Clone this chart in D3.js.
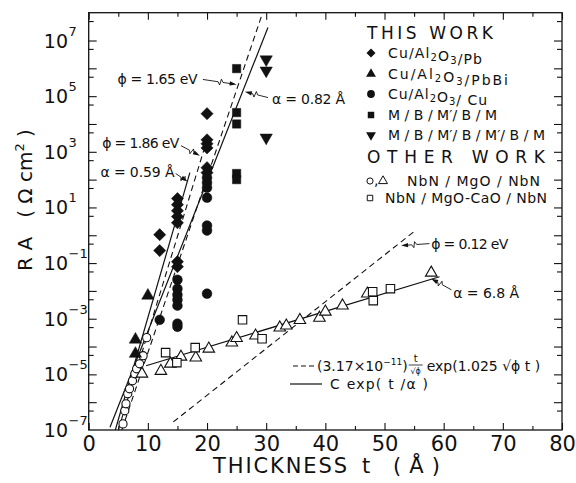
<!DOCTYPE html>
<html>
<head>
<meta charset="utf-8">
<script src="https://cdn.jsdelivr.net/npm/d3@7"></script>
<style>
  body { margin: 0; background: #fff; }
  text { font-family: "DejaVu Sans", sans-serif; fill: #111; }
</style>
</head>
<body>
<svg id="chart" width="576" height="483"></svg>
<script>
// thickness t in Angstrom, RA given as log10(RA / Ohm cm^2)

// THIS WORK
var pbT   = [12, 12, 15, 15, 15, 15, 15, 15, 15, 20, 20, 20, 20, 20, 20];
var pbLog = [0.02, -0.55, 1.32, 1.10, 0.88, 0.67, 0.45, -0.95, -1.13, 4.37, 3.43, 3.29, 3.14, 2.43, 2.25];

var pbbiT   = [10, 7.9, 7.9];
var pbbiLog = [-2.17, -3.75, -4.26];

var cuT   = [12, 15, 15, 15, 15, 15, 15, 15, 20, 20, 20, 20, 20, 20, 20];
var cuLog = [-3.04, -1.60, -1.92, -2.14, -2.32, -2.53, -3.18, -3.29, 2.07, 1.89, 1.71, 1.35, 0.35, 0.17, -2.10];

var mbmT   = [25, 25, 25, 25, 25];
var mbmLog = [5.99, 4.41, 4.00, 2.22, 2.00];

var mbmbmT   = [30, 30, 30];
var mbmbmLog = [6.32, 5.92, 3.51];

// OTHER WORK
var mgoCircT   = [5.8, 6.1, 6.3, 6.6, 6.9, 7.4, 7.8, 8.1, 8.6, 9.2, 9.8];
var mgoCircLog = [-6.78, -6.31, -6.06, -5.70, -5.52, -5.23, -4.98, -4.80, -4.62, -4.33, -3.68];

var mgoTriT   = [9.0, 12.2, 13.8, 15.6, 18.1, 20.3, 24.2, 25.0, 28.2, 32.3, 33.4, 35.7, 39.0, 40.0, 42.9, 47.1, 57.9];
var mgoTriLog = [-4.98, -4.88, -4.62, -4.37, -4.40, -4.08, -3.86, -3.70, -3.61, -3.32, -3.25, -3.05, -2.97, -2.75, -2.53, -2.10, -1.35];

var caoT   = [13.0, 14.9, 18.0, 26.0, 29.3, 48.0, 48.1, 51.0];
var caoLog = [-4.22, -4.58, -4.04, -3.04, -3.72, -2.03, -2.35, -1.92];

// fitted lines, [t, log10 RA] end points
var fitAlpha082 = [[3.6, -6.9], [30.3, 7.47]];
var fitAlpha059 = [[4.5, -7.0], [17.1, 2.25]];
var fitAlpha68  = [[9.7, -4.69], [59.3, -1.49]];
var fitPhi165   = [[5.6, -7.0], [29.4, 8.0]];
var fitPhi186   = [[5.0, -7.0], [19.8, 3.3]];
var fitPhi012   = [[14.3, -6.71], [55.4, 0.2]];

var xTicks = [0, 10, 20, 30, 40, 50, 60, 70, 80];
var xMinorTicks = [5, 15, 25, 35, 45, 55, 65, 75];
var yLabelPowers = [7, 5, 3, 1, -1, -3, -5, -7];
var yDecades = [-6, -5, -4, -3, -2, -1, 0, 1, 2, 3, 4, 5, 6, 7];
var yHalfDecades = [-7, -6, -5, -4, -3, -2, -1, 0, 1, 2, 3, 4, 5, 6, 7];

var legendThis = ["Cu/Al_2O_3/Pb", "Cu/Al_2O_3/PbBi", "Cu/Al_2O_3/ Cu", "M / B / M\u2032/ B / M", "M / B / M\u2032/ B / M\u2032/ B / M"];
var legendThisLen = [94, 120, 99, 109, 157];
var legendOther = ["NbN / MgO / NbN", "NbN / MgO-CaO / NbN"];
var legendOtherLen = [133, 162];

var svg = d3.select("#chart");

var x = d3.scaleLinear().domain([0, 80]).range([88.7, 562]);
var y = d3.scaleLog().domain([1e-7, 1e8]).range([430, 12.7]);
function ly(v) { return y(Math.pow(10, v)); }

// frame
svg.append("rect")
  .attr("x", x(0)).attr("y", y(1e8))
  .attr("width", x(80) - x(0)).attr("height", y(1e-7) - y(1e8))
  .attr("fill", "none").attr("stroke", "#111").attr("stroke-width", 1.3);

// tick marks, all pointing inward
function styleAxis(g) {
  g.select(".domain").remove();
  g.attr("color", "#111");
  g.selectAll(".tick line").attr("stroke-width", 1.1);
}
svg.append("g").attr("transform", "translate(0," + y(1e-7) + ")")
  .call(d3.axisBottom(x).tickValues(xTicks).tickSize(-7).tickPadding(6).tickFormat(d3.format("d")))
  .call(styleAxis)
  .selectAll("text").style("font-size", "21px").attr("font-family", null);
svg.append("g").attr("transform", "translate(0," + y(1e-7) + ")")
  .call(d3.axisBottom(x).tickValues(xMinorTicks).tickSize(-4).tickFormat(""))
  .call(styleAxis);
svg.append("g").attr("transform", "translate(0," + y(1e8) + ")")
  .call(d3.axisTop(x).tickValues(xTicks).tickSize(-7).tickFormat(""))
  .call(styleAxis);
svg.append("g").attr("transform", "translate(0," + y(1e8) + ")")
  .call(d3.axisTop(x).tickValues(xMinorTicks).tickSize(-4).tickFormat(""))
  .call(styleAxis);

var decadeVals = yDecades.map(function(p) { return Math.pow(10, p); });
var halfVals = yHalfDecades.map(function(p) { return 5 * Math.pow(10, p); });
[[d3.axisLeft, x(0)], [d3.axisRight, x(80)]].forEach(function(a) {
  svg.append("g").attr("transform", "translate(" + a[1] + ",0)")
    .call(a[0](y).tickValues(decadeVals).tickSize(-8).tickFormat(""))
    .call(styleAxis);
  svg.append("g").attr("transform", "translate(" + a[1] + ",0)")
    .call(a[0](y).tickValues(halfVals).tickSize(-5).tickFormat(""))
    .call(styleAxis);
});

// y tick labels 10^n
svg.append("g").selectAll("text")
  .data(yLabelPowers).enter().append("text")
  .attr("x", 68)
  .attr("y", function(d) { return ly(d) + 7; })
  .attr("text-anchor", "end")
  .style("font-size", "19px")
  .text("10");
svg.append("g").selectAll("text")
  .data(yLabelPowers).enter().append("text")
  .attr("x", 68.5)
  .attr("y", function(d) { return ly(d) - 5; })
  .style("font-size", "13px")
  .text(function(d) { return d < 0 ? "\u2212" + (-d) : d; });

// axis titles
svg.append("text").attr("x", 213).attr("y", 473).style("font-size", "21px")
  .attr("textLength", 134).attr("lengthAdjust", "spacing").text("THICKNESS");
svg.append("text").attr("x", 362).attr("y", 473).style("font-size", "21px").text("t");
svg.append("text").attr("x", 393).attr("y", 473).style("font-size", "21px")
  .attr("textLength", 47).attr("lengthAdjust", "spacing").text("(Å)");

var yt = svg.append("text")
  .attr("transform", "translate(32,200) rotate(-90)")
  .attr("text-anchor", "middle")
  .style("font-size", "20px")
  .style("white-space", "pre");
yt.append("tspan").text("R A   ( \u03a9 cm");
yt.append("tspan").attr("dy", -8).style("font-size", "13px").text("2");
yt.append("tspan").attr("dy", 8).text(" )");

// fitted lines
var logLine = d3.line()
  .x(function(d) { return x(d[0]); })
  .y(function(d) { return ly(d[1]); });

svg.append("clipPath").attr("id", "plotclip").append("rect")
  .attr("x", x(0)).attr("y", y(1e8)).attr("width", x(80) - x(0)).attr("height", y(1e-7) - y(1e8));

var fits = svg.append("g").attr("clip-path", "url(#plotclip)");
[fitAlpha082, fitAlpha059, fitAlpha68].forEach(function(f) {
  fits.append("path").attr("d", logLine(f))
    .attr("fill", "none").attr("stroke", "#111").attr("stroke-width", 1.2);
});
[fitPhi165, fitPhi186, fitPhi012].forEach(function(f) {
  fits.append("path").attr("d", logLine(f))
    .attr("fill", "none").attr("stroke", "#111").attr("stroke-width", 1.1)
    .attr("stroke-dasharray", "6,4");
});

// markers
function plotSeries(ts, logs, type, size, rot, filled) {
  var sym = d3.symbol().type(type).size(size);
  svg.append("g").selectAll("path")
    .data(ts.map(function(t, i) { return [t, logs[i]]; }))
    .enter().append("path")
    .attr("d", sym)
    .attr("transform", function(d) {
      return "translate(" + x(d[0]) + "," + ly(d[1]) + ") rotate(" + rot + ")";
    })
    .attr("fill", filled ? "#111" : "#fff")
    .attr("stroke", "#111")
    .attr("stroke-width", filled ? 0.5 : 1.1);
}
plotSeries(mgoCircT, mgoCircLog, d3.symbolCircle, 52, 0, false);
plotSeries(mgoTriT, mgoTriLog, d3.symbolTriangle, 58, 0, false);
plotSeries(caoT, caoLog, d3.symbolSquare, 72, 0, false);
plotSeries(pbT, pbLog, d3.symbolSquare, 74, 45, true);
plotSeries(pbbiT, pbbiLog, d3.symbolTriangle, 66, 0, true);
plotSeries(cuT, cuLog, d3.symbolCircle, 75, 0, true);
plotSeries(mbmT, mbmLog, d3.symbolSquare, 70, 0, true);
plotSeries(mbmbmT, mbmbmLog, d3.symbolTriangle, 66, 180, true);

// annotation arrows with a little zig-zag break
function zigArrow(a, b) {
  var x0 = x(a[0]), y0 = ly(a[1]), x1 = x(b[0]), y1 = ly(b[1]);
  var dx = x1 - x0, dy = y1 - y0, len = Math.sqrt(dx * dx + dy * dy);
  var ux = dx / len, uy = dy / len, nx = -uy, ny = ux;
  var m = len * 0.45;
  var p = d3.path();
  p.moveTo(x0, y0);
  p.lineTo(x0 + ux * m, y0 + uy * m);
  p.lineTo(x0 + ux * (m + 2) + nx * 3, y0 + uy * (m + 2) + ny * 3);
  p.lineTo(x0 + ux * (m + 3) - nx * 3, y0 + uy * (m + 3) - ny * 3);
  p.lineTo(x0 + ux * (m + 5), y0 + uy * (m + 5));
  p.lineTo(x1 - ux * 5, y1 - uy * 5);
  svg.append("path").attr("d", p.toString())
    .attr("fill", "none").attr("stroke", "#111").attr("stroke-width", 0.9);
  svg.append("path")
    .attr("d", "M" + x1 + "," + y1 +
      "L" + (x1 - ux * 7 + nx * 2.2) + "," + (y1 - uy * 7 + ny * 2.2) +
      "L" + (x1 - ux * 7 - nx * 2.2) + "," + (y1 - uy * 7 - ny * 2.2) + "Z")
    .attr("fill", "#111");
}
function note(pos, anchor, label, len) {
  svg.append("text")
    .attr("x", x(pos[0])).attr("y", ly(pos[1]) + 5)
    .attr("text-anchor", anchor)
    .style("font-size", "14px")
    .attr("textLength", len).attr("lengthAdjust", "spacing")
    .text(label);
}
note([18.4, 5.62], "end", "\u03d5 = 1.65 eV", 80);
zigArrow([19.3, 5.6], [25.0, 5.42]);
note([31.0, 4.91], "start", "\u03b1 = 0.82 \u00c5", 73);
zigArrow([30.3, 4.95], [26.4, 5.16]);
note([15.3, 3.33], "end", "\u03d5 = 1.86 eV", 77);
zigArrow([15.6, 3.22], [18.8, 2.86]);
note([14.5, 2.29], "end", "\u03b1 = 0.59 \u00c5", 74);
zigArrow([14.7, 2.22], [16.7, 1.93]);
note([57.9, -0.30], "start", "\u03d5 = 0.12 eV", 77);
zigArrow([57.6, -0.30], [52.8, -0.37]);
note([61.6, -2.06], "start", "\u03b1 = 6.8 \u00c5", 66);
zigArrow([61.3, -1.96], [57.9, -1.56]);

// legend
function subText(sel, label) {
  label.split(/(_\d)/).forEach(function(part) {
    if (part.charAt(0) === "_") {
      sel.append("tspan").attr("dy", 3).style("font-size", "10px").text(part.slice(1));
      sel.append("tspan").attr("dy", -3).text("");
    } else if (part) {
      sel.append("tspan").text(part);
    }
  });
}
svg.append("text").attr("x", 367).attr("y", 39).style("font-size", "17px")
  .attr("textLength", 126).attr("lengthAdjust", "spacing").text("THIS WORK");
var thisTypes = [[d3.symbolSquare, 40, 45], [d3.symbolTriangle, 42, 0], [d3.symbolCircle, 48, 0], [d3.symbolSquare, 42, 0], [d3.symbolTriangle, 42, 180]];
var rowY = [53, 74, 94, 115, 135];
legendThis.forEach(function(lab, i) {
  svg.append("path")
    .attr("d", d3.symbol().type(thisTypes[i][0]).size(thisTypes[i][1]))
    .attr("transform", "translate(371," + rowY[i] + ") rotate(" + thisTypes[i][2] + ")")
    .attr("fill", "#111");
  var t = svg.append("text").attr("x", 388).attr("y", rowY[i] + 5)
    .style("font-size", "14px")
    .attr("textLength", legendThisLen[i]).attr("lengthAdjust", "spacing");
  subText(t, lab);
});
svg.append("text").attr("x", 367).attr("y", 163).style("font-size", "17px")
  .attr("textLength", 178).attr("lengthAdjust", "spacing").text("OTHER WORK");
svg.append("path").attr("d", d3.symbol().type(d3.symbolCircle).size(30))
  .attr("transform", "translate(370,181)").attr("fill", "none").attr("stroke", "#111");
svg.append("text").attr("x", 374).attr("y", 185).style("font-size", "14px").text(",");
svg.append("path").attr("d", d3.symbol().type(d3.symbolTriangle).size(35))
  .attr("transform", "translate(383,181)").attr("fill", "none").attr("stroke", "#111");
svg.append("path").attr("d", d3.symbol().type(d3.symbolSquare).size(30))
  .attr("transform", "translate(370,198)").attr("fill", "none").attr("stroke", "#111");
svg.append("text").attr("x", 407).attr("y", 186).style("font-size", "14px")
  .attr("textLength", legendOtherLen[0]).attr("lengthAdjust", "spacing").text(legendOther[0]);
svg.append("text").attr("x", 385).attr("y", 203).style("font-size", "14px")
  .attr("textLength", legendOtherLen[1]).attr("lengthAdjust", "spacing").text(legendOther[1]);

// formula key, pieces laid out one after another
svg.append("line").attr("x1", 293).attr("x2", 316).attr("y1", 366).attr("y2", 366)
  .attr("stroke", "#111").attr("stroke-width", 1.1).attr("stroke-dasharray", "5,3");
var f1 = svg.append("text").attr("x", 317).attr("y", 371).style("font-size", "14px");
f1.append("tspan").text("(3.17\u00d710");
f1.append("tspan").attr("dy", -6).style("font-size", "9px").text("\u221211");
f1.append("tspan").attr("dy", 6).text(")");
var fx = 317 + f1.node().getComputedTextLength() + 8;
svg.append("text").attr("x", fx).attr("y", 362).attr("text-anchor", "middle").style("font-size", "10px").text("t");
svg.append("line").attr("x1", fx - 7).attr("x2", fx + 7).attr("y1", 365).attr("y2", 365).attr("stroke", "#111").attr("stroke-width", 0.8);
svg.append("text").attr("x", fx).attr("y", 374).attr("text-anchor", "middle").style("font-size", "8px").text("\u221a\u03d5");
svg.append("text").attr("x", fx + 11).attr("y", 371).style("font-size", "14px").text("exp(1.025 \u221a\u03d5 t )");

svg.append("line").attr("x1", 290).attr("x2", 322).attr("y1", 384).attr("y2", 384)
  .attr("stroke", "#111").attr("stroke-width", 1.2);
svg.append("text").attr("x", 330).attr("y", 389).style("font-size", "14px")
  .attr("textLength", 98).attr("lengthAdjust", "spacing").text("C exp( t /\u03b1 )");
</script>
</body>
</html>
